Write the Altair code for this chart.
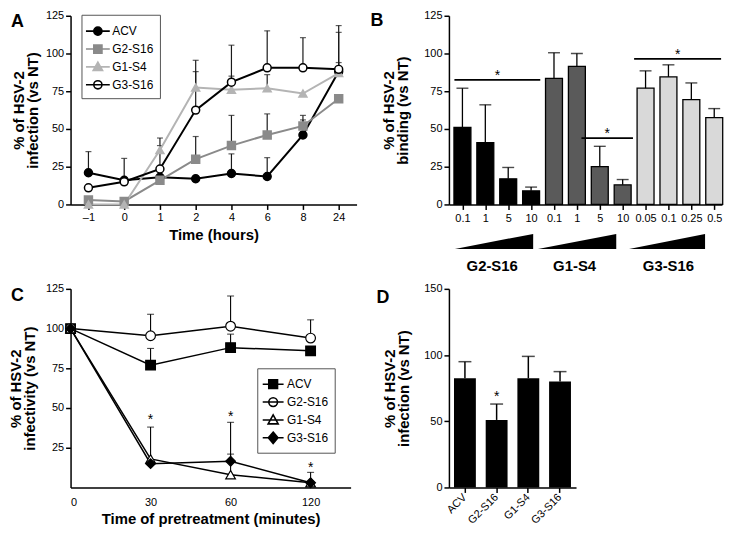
import json
import altair as alt
import pandas as pd

FONT = "Liberation Sans"

# ---------------- Panel A: infection vs time ----------------
a_times = ["–1", "0", "1", "2", "4", "6", "8", "24"]
a_series = ["ACV", "G2-S16", "G1-S4", "G3-S16"]
a_acv = [21, 16, 18, 17, 20.5, 18.5, 46, 88]
a_g2s16 = [3, 2, 16, 30, 39, 46, 52, 70]
a_g1s4 = [0, 0, 36, 77.5, 76, 77, 73.5, 87]
a_g3s16 = [11, 15, 23.5, 62.5, 81, 90.5, 90.5, 89.5]
a_acv_err = [35, 30.5, None, None, 33.5, 31, 56, 94]
a_g2s16_err = [None, None, None, 45, 59, 60, 59, None]
a_g1s4_err = [None, None, 44, 88, 85, 86, None, 114]
a_g3s16_err = [None, None, 39, 95.5, 105.5, 115, 110.5, 118.5]
a_yticks = [0, 25, 50, 75, 100, 125]

# ---------------- Panel B: binding ----------------
b_conc = ["0.1", "1", "5", "10", "0.1", "1", "5", "10", "0.05", "0.1", "0.25", "0.5"]
b_groups = ["G2-S16"] * 4 + ["G1-S4"] * 4 + ["G3-S16"] * 4
b_group_names = ["G2-S16", "G1-S4", "G3-S16"]
b_vals = [51, 41, 17, 9, 83.5, 91.5, 25, 13, 77, 84.5, 69.5, 57.5]
b_err = [77, 66, 24.5, 11.5, 100.5, 100, 38.5, 16.5, 88.5, 92.5, 80.5, 63.5]
b_sig_x0 = [-0.35, 5.2, 7.5]
b_sig_x1 = [3.4, 7.45, 11.3]
b_sig_y = [82.5, 44, 96.5]
b_wedge_x0 = [-0.33, 3.3, 7.28]
b_wedge_x1 = [3.09, 6.72, 10.6]
b_wedge_low = -29.5
b_wedge_high = -19.5
b_label_x = [1.3, 4.9, 9.0]
b_label_y = -41
b_yticks = [0, 25, 50, 75, 100, 125]

# ---------------- Panel C: pretreatment ----------------
c_minutes = ["0", "30", "60", "120"]
c_series = ["ACV", "G2-S16", "G1-S4", "G3-S16"]
c_acv = [100, 77, 88, 86]
c_g2s16 = [100, 95.5, 101.5, 94]
c_g1s4 = [100, 18, 8, 3]
c_g3s16 = [100, 15, 16.5, 3]
c_acv_err = [None, 87.5, 96.5, None]
c_g2s16_err = [None, 109, 120.5, 105.5]
c_g1s4_err = [None, 38, 21, None]
c_g3s16_err = [None, None, 41, 9.5]
c_star_pos = [1, 2, 3]
c_star_y = [40, 42, 10]
c_yticks = [25, 50, 75, 100, 125]

# ---------------- Panel D ----------------
d_cats = ["ACV", "G2-S16", "G1-S4", "G3-S16"]
d_vals = [82.5, 51, 82.5, 80]
d_err = [95, 63, 99, 87.5]
d_star_cat = ["G2-S16"]
d_star_y = [64]
d_yticks = [0, 50, 100, 150]

# ---------------- styles ----------------
A_LINE = ["#000000", "#8a8a8a", "#b4b4b4", "#000000"]
A_FILL = ["#000000", "#8a8a8a", "#b4b4b4", "#ffffff"]
A_STROKE = ["#000000", "#8a8a8a", "#b4b4b4", "#000000"]
A_SHAPES = ["circle", "square", "triangle-up", "circle"]
B_COLORS = ["#000000", "#5a5a5a", "#d9d9d9"]
C_FILL = ["#000000", "#ffffff", "#ffffff", "#000000"]
C_SHAPES = ["square", "circle", "triangle-up", "diamond"]


def legend_paths(sym_size, half_line, r):
    """Legend symbols: a line with a marker, sizes given in pixels."""
    u = (sym_size ** 0.5) / 2.0
    L = half_line / u
    k = r / u
    line = f"M{-L:.3f},0H{L:.3f}"
    circle = line + f"M{-k:.3f},0A{k:.3f},{k:.3f},0,1,1,{k:.3f},0A{k:.3f},{k:.3f},0,1,1,{-k:.3f},0Z"
    square = line + f"M{-k:.3f},{-k:.3f}H{k:.3f}V{k:.3f}H{-k:.3f}Z"
    tri = line + f"M0,{-1.15 * k:.3f}L{1.15 * k:.3f},{0.9 * k:.3f}H{-1.15 * k:.3f}Z"
    diam = line + f"M0,{-1.3 * k:.3f}L{1.1 * k:.3f},0L0,{1.3 * k:.3f}L{-1.1 * k:.3f},0Z"
    return {"circle": circle, "square": square, "triangle-up": tri, "diamond": diam}


A_LEG_SIZE = 361
C_LEG_SIZE = 324
A_PATHS = legend_paths(A_LEG_SIZE, 12, 4.1)
C_PATHS = legend_paths(C_LEG_SIZE, 10.5, 4.4)


def make_legend(x, y, size):
    return alt.Legend(title=None, orient="none", legendX=x, legendY=y,
                      symbolSize=size, symbolStrokeWidth=1.6, symbolOpacity=1,
                      labelFont=FONT, labelFontSize=12, labelColor="black",
                      strokeColor="#555555", fillColor="white", padding=6,
                      rowPadding=0, labelOffset=4)


def letter(t, x, y):
    return alt.Chart(pd.DataFrame({"t": [t]})).mark_text(
        align="left", baseline="alphabetic", fontSize=18, fontWeight="bold",
        font=FONT, color="black").encode(text="t:N", x=alt.value(x), y=alt.value(y))


def long_df(xs, series, values, errs, xname):
    rows = []
    for s, vs, es in zip(series, values, errs):
        for i, (xv, v, e) in enumerate(zip(xs, vs, es)):
            rows.append({xname: xv, "ix": i, "series": s, "value": v, "err": e})
    return pd.DataFrame(rows)


# ================= Panel A =================
df_a = long_df(a_times, a_series, [a_acv, a_g2s16, a_g1s4, a_g3s16],
               [a_acv_err, a_g2s16_err, a_g1s4_err, a_g3s16_err], "time")


def a_x():
    return alt.X("time:N", sort=a_times, scale=alt.Scale(type="point", padding=0.5),
                 axis=alt.Axis(title="Time (hours)", labelAngle=0, labelOverlap=False, titlePadding=5))


def a_y(field):
    return alt.Y(field=field, type="quantitative", scale=alt.Scale(domain=[0, 125], nice=False),
                 axis=alt.Axis(values=a_yticks, title=["% of HSV-2", "infection (vs NT)"],
                               titlePadding=5, titleLineHeight=14))


base_a = alt.Chart(df_a)
a_rule = base_a.transform_filter("isValid(datum.err)").mark_rule(color="#1a1a1a", strokeWidth=1.2).encode(
    x=a_x(), y=a_y("value"), y2=alt.Y2("err"))
a_cap = base_a.transform_filter("isValid(datum.err)").mark_tick(
    orient="horizontal", size=6, thickness=1.2, color="#1a1a1a").encode(x=a_x(), y=a_y("err"))
a_line = base_a.mark_line(strokeWidth=2).encode(
    x=a_x(), y=a_y("value"),
    color=alt.Color("series:N", scale=alt.Scale(domain=a_series, range=A_LINE), legend=None),
    order=alt.Order("ix:Q"))
a_pts = base_a.mark_point(filled=True, size=64, strokeWidth=1.5, opacity=1).encode(
    x=a_x(), y=a_y("value"),
    shape=alt.Shape("series:N", scale=alt.Scale(domain=a_series, range=A_SHAPES), legend=None),
    color=alt.Color("series:N", scale=alt.Scale(domain=a_series, range=A_FILL), legend=None),
    stroke=alt.Stroke("series:N", scale=alt.Scale(domain=a_series, range=A_STROKE), legend=None))
leg_a = make_legend(11, -1, A_LEG_SIZE)
a_leg = base_a.transform_filter("false").mark_point(filled=True, size=A_LEG_SIZE, strokeWidth=1.6, opacity=1).encode(
    shape=alt.Shape("series:N", scale=alt.Scale(domain=a_series, range=[A_PATHS[s] for s in A_SHAPES]), legend=leg_a),
    color=alt.Color("series:N", scale=alt.Scale(domain=a_series, range=A_FILL), legend=leg_a),
    stroke=alt.Stroke("series:N", scale=alt.Scale(domain=a_series, range=A_STROKE), legend=leg_a))

panel_a = alt.layer(a_rule, a_cap, a_line, a_pts, a_leg, letter("A", -60, 11)).resolve_scale(
    color="independent", shape="independent", stroke="independent").properties(width=288, height=190)

# ================= Panel B =================
df_b = pd.DataFrame({"idx": list(range(len(b_conc))), "conc": b_conc, "group": b_groups,
                     "value": b_vals, "err": b_err})
df_sig = pd.DataFrame({"x0": b_sig_x0, "x1": b_sig_x1, "y": b_sig_y})
w_rows = []
for g, x0, x1 in zip(b_group_names, b_wedge_x0, b_wedge_x1):
    w_rows.append({"group": g, "wx": x0, "wy": b_wedge_low, "wy2": b_wedge_low})
    w_rows.append({"group": g, "wx": x1, "wy": b_wedge_low, "wy2": b_wedge_high})
df_wedge = pd.DataFrame(w_rows)
df_glab = pd.DataFrame({"group": b_group_names, "gx": b_label_x, "gy": [b_label_y] * 3})

b_label_expr = json.dumps(b_conc) + "[datum.value]"


def b_x(field):
    return alt.X(field=field, type="quantitative",
                 scale=alt.Scale(domain=[-0.59, 11.34], nice=False, zero=False),
                 axis=alt.Axis(values=list(range(len(b_conc))), labelExpr=b_label_expr,
                               title=None, labelOverlap=False, labelPadding=3))


def b_y(field):
    return alt.Y(field=field, type="quantitative", scale=alt.Scale(domain=[0, 125], nice=False),
                 axis=alt.Axis(values=b_yticks, title=["% of HSV-2", "binding (vs NT)"],
                               titlePadding=13, titleLineHeight=14))


base_b = alt.Chart(df_b)
b_bars = base_b.transform_calculate(
    x0="datum.idx - 0.37", x1="datum.idx + 0.37", base="0").mark_bar(
    stroke="black", strokeWidth=1.3).encode(
    x=b_x("x0"), x2=alt.X2("x1"), y=b_y("value"), y2=alt.Y2("base"),
    fill=alt.Fill("group:N", scale=alt.Scale(domain=b_group_names, range=B_COLORS), legend=None))
b_rule = base_b.mark_rule(color="black", strokeWidth=1.3).encode(x=b_x("idx"), y=b_y("value"), y2=alt.Y2("err"))
b_cap = base_b.mark_tick(orient="horizontal", size=12, thickness=1.4, color="black").encode(
    x=b_x("idx"), y=b_y("err"))
b_sig = alt.Chart(df_sig).mark_rule(color="black", strokeWidth=1.8).encode(
    x=b_x("x0"), x2=alt.X2("x1"), y=b_y("y"))
b_star = alt.Chart(df_sig).transform_calculate(mid="(datum.x0 + datum.x1) / 2", s="'*'").mark_text(
    fontSize=14, font=FONT, baseline="alphabetic", color="black").encode(
    x=b_x("mid"), y=b_y("y"), text="s:N")
b_wedges = alt.Chart(df_wedge).mark_area(color="black", orient="vertical").encode(
    x=b_x("wx"), y=b_y("wy"), y2=alt.Y2("wy2"), detail="group:N")
b_glabels = alt.Chart(df_glab).mark_text(fontSize=15, fontWeight="bold", font=FONT,
                                        baseline="middle", color="black").encode(
    x=b_x("gx"), y=b_y("gy"), text="group:N")

panel_b = alt.layer(b_bars, b_rule, b_cap, b_sig, b_star, b_wedges, b_glabels,
                    letter("B", -79, 10)).properties(width=275, height=190)

# ================= Panel C =================
df_c = long_df(list(range(len(c_minutes))), c_series, [c_acv, c_g2s16, c_g1s4, c_g3s16],
               [c_acv_err, c_g2s16_err, c_g1s4_err, c_g3s16_err], "pos")
df_cstar = pd.DataFrame({"pos": c_star_pos, "y": c_star_y, "s": ["*"] * len(c_star_pos)})
c_label_expr = json.dumps(c_minutes) + "[datum.value]"


def c_x(field):
    return alt.X(field=field, type="quantitative", scale=alt.Scale(domain=[0, 3.5], nice=False),
                 axis=alt.Axis(values=list(range(len(c_minutes))), labelExpr=c_label_expr, ticks=False,
                               labelPadding=9, title="Time of pretreatment (minutes)", titlePadding=4))


def c_y(field):
    return alt.Y(field=field, type="quantitative", scale=alt.Scale(domain=[0, 125], nice=False),
                 axis=alt.Axis(values=c_yticks, title=["% of HSV-2", "infectivity (vs NT)"],
                               titlePadding=8, titleLineHeight=14))


base_c = alt.Chart(df_c)
c_rule = base_c.transform_filter("isValid(datum.err)").mark_rule(color="black", strokeWidth=1.1).encode(
    x=c_x("pos"), y=c_y("value"), y2=alt.Y2("err"))
c_cap = base_c.transform_filter("isValid(datum.err)").mark_tick(
    orient="horizontal", size=7, thickness=1.1, color="black").encode(x=c_x("pos"), y=c_y("err"))
c_line = base_c.mark_line(strokeWidth=1.5, color="black").encode(
    x=c_x("pos"), y=c_y("value"), detail="series:N", order=alt.Order("ix:Q"))
c_pts = base_c.mark_point(filled=True, size=95, strokeWidth=1.2, opacity=1).encode(
    x=c_x("pos"), y=c_y("value"),
    shape=alt.Shape("series:N", scale=alt.Scale(domain=c_series, range=C_SHAPES), legend=None),
    color=alt.Color("series:N", scale=alt.Scale(domain=c_series, range=C_FILL), legend=None),
    stroke=alt.value("black"))
leg_c = make_legend(188, 80, C_LEG_SIZE)
c_leg = base_c.transform_filter("false").mark_point(filled=True, size=C_LEG_SIZE, strokeWidth=1.4, opacity=1).encode(
    shape=alt.Shape("series:N", scale=alt.Scale(domain=c_series, range=[C_PATHS[s] for s in C_SHAPES]), legend=leg_c),
    color=alt.Color("series:N", scale=alt.Scale(domain=c_series, range=C_FILL), legend=leg_c),
    stroke=alt.Stroke("series:N", scale=alt.Scale(domain=c_series, range=["black"] * 4), legend=leg_c))
c_star = alt.Chart(df_cstar).mark_text(fontSize=14, font=FONT, baseline="alphabetic", color="black").encode(
    x=c_x("pos"), y=c_y("y"), text="s:N")

panel_c = alt.layer(c_rule, c_cap, c_line, c_pts, c_leg, c_star, letter("C", -60, 12)).resolve_scale(
    color="independent", shape="independent", stroke="independent").properties(width=282, height=200)

# ================= Panel D =================
df_d = pd.DataFrame({"cat": d_cats, "value": d_vals, "err": d_err})
df_dstar = pd.DataFrame({"cat": d_star_cat, "y": d_star_y, "s": ["*"] * len(d_star_cat)})


def d_x():
    return alt.X("cat:N", sort=d_cats, scale=alt.Scale(paddingInner=0.31, paddingOuter=0.16),
                 axis=alt.Axis(title=None, labelAngle=315, labelAlign="right", labelBaseline="middle",
                               labelPadding=3))


def d_y(field):
    return alt.Y(field=field, type="quantitative", scale=alt.Scale(domain=[0, 150], nice=False),
                 axis=alt.Axis(values=d_yticks, title=["% of HSV-2", "infection (vs NT)"],
                               titlePadding=12, titleLineHeight=14))


base_d = alt.Chart(df_d)
d_bars = base_d.mark_bar(color="black").encode(x=d_x(), y=d_y("value"))
d_rule = base_d.mark_rule(color="black", strokeWidth=1.5).encode(x=d_x(), y=d_y("value"), y2=alt.Y2("err"))
d_cap = base_d.mark_tick(orient="horizontal", size=13, thickness=1.5, color="black").encode(x=d_x(), y=d_y("err"))
d_star = alt.Chart(df_dstar).mark_text(fontSize=14, font=FONT, baseline="alphabetic", color="black", dy=-2).encode(
    x=d_x(), y=d_y("y"), text="s:N")

panel_d = alt.layer(d_bars, d_rule, d_cap, d_star, letter("D", -73, 14)).properties(width=128, height=200)

# ================= Assemble =================
chart = alt.concat(panel_a, panel_b, panel_c, panel_d, columns=2,
                   spacing={"row": 85, "column": 93}, bounds="flush", align="each")
chart = chart.resolve_scale(color="independent", shape="independent", stroke="independent",
                            fill="independent")
chart = chart.properties(padding=0, background="white")
chart = chart.configure_view(stroke=None).configure_axis(
    grid=False, domainColor="black", domainWidth=1.5, tickColor="black", tickWidth=1.5, tickSize=5,
    labelFont=FONT, labelFontSize=11, labelColor="black", labelPadding=2,
    titleFont=FONT, titleFontSize=15, titleFontWeight="bold", titleColor="black")

chart.save("out.html", embed_options={"renderer": "svg", "actions": False})
